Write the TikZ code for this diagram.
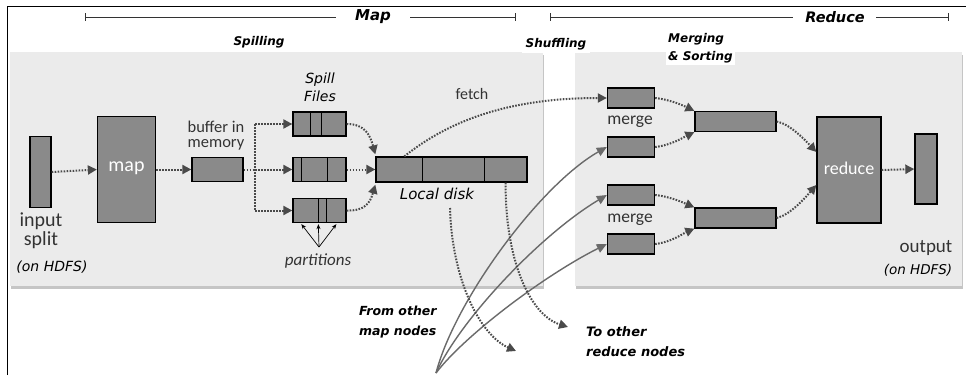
\documentclass[tikz,border=0pt]{standalone}
\usepackage{fontspec}
\setmainfont{Carlito}
\newfontfamily\comic{DejaVu Sans}
\usetikzlibrary{arrows.meta,shadows,calc}
\definecolor{boxgray}{HTML}{8A8A8A}
\definecolor{panelgray}{HTML}{EBEBEB}
\definecolor{arrgray}{HTML}{4A4A4A}
\definecolor{curvegray}{HTML}{6A6A6A}
\tikzset{
  blk/.style={draw=black, line width=1.3pt, fill=boxgray, inner sep=0pt},
  panel/.style={fill=panelgray, draw=none, drop shadow={opacity=0.45, shadow xshift=1pt, shadow yshift=-3pt}},
  dotarr/.style={draw=arrgray, line width=2pt, dash pattern=on 1.6pt off 1.4pt, -{Triangle[length=9pt,width=9pt,fill=arrgray]}},
  dotline/.style={draw=arrgray, line width=2pt, dash pattern=on 1.6pt off 1.4pt},
  grayarr/.style={draw=curvegray, line width=1.4pt, -{Triangle[length=10pt,width=9pt,fill=curvegray]}},
  lbl/.style={font=\fontsize{16}{15}\selectfont, text=black!80, inner sep=0pt},
  whitelbl/.style={font=\fontsize{20}{20}\selectfont, text=white, inner sep=0pt},
  cmc/.style={font=\comic\bfseries\itshape\fontsize{12}{20}\selectfont, inner sep=1pt, align=left},
  cmcn/.style={font=\comic\itshape\fontsize{14}{18}\selectfont, inner sep=0pt, align=center},
  bracket/.style={draw=black!80, line width=0.7pt},
}
\begin{document}
\begin{tikzpicture}[x=1pt,y=-1pt]
\useasboundingbox (0,0) rectangle (966,375);
\fill[white] (0,0) rectangle (966,375);
% frame
\draw[line width=1pt] (7,375) -- (7,6) -- (966,6);
% panels
\path[panel] (10,52) rectangle (543,286);
\path[panel] (575,52) rectangle (962,286);
% brackets
\node[cmc, font=\comic\bfseries\itshape\fontsize{15}{15}\selectfont] (maplbl) at (373,17) {Map};
\draw[bracket] (85,13) -- (85,21);
\draw[bracket] (85,17) -- (336,17);
\draw[bracket] (410,17) -- (515,17);
\draw[bracket] (515,13) -- (515,21);
\node[cmc, font=\comic\bfseries\itshape\fontsize{14.5}{15}\selectfont] (redlbl) at (835,17) {Reduce};
\draw[bracket] (550,13) -- (550,21);
\draw[bracket] (550,17) -- (793,17);
\draw[bracket] (876,17) -- (948,17);
\draw[bracket] (948,13) -- (948,21);
% phase labels
\node[cmc] (spilling) at (259,42) {Spilling};
\node[cmc, fill=white, inner xsep=4pt, inner ysep=3pt] (shuffling) at (556,44) {Shuffling};
\node[cmc, fill=white, inner sep=2pt, anchor=north west, font=\comic\bfseries\itshape\fontsize{12}{18}\selectfont] (merging) at (666,31) {Merging\\\& Sorting};
% input split and map
\node[blk, minimum width=21pt, minimum height=71pt] (split) at (40.5,172) {};
\node[lbl, font=\fontsize{20}{19}\selectfont, align=center] (splitlbl) at (41,231) {input\\split};
\node[cmcn] (hdfs1) at (52,267) {(on HDFS)};
\node[blk, minimum width=58pt, minimum height=106pt] (map) at (126.5,169.5) {};
\node[whitelbl] (maptxt) at (126.5,168) {map};
\draw[dotarr] (split.east) -- (map.west);
% buffer
\node[blk, minimum width=51pt, minimum height=24pt] (buf) at (217.5,169.5) {};
\node[lbl, align=center, font=\fontsize{16.5}{15}\selectfont] (buflbl) at (216,136) {buffer in\\memory};
\draw[dotarr] (map.east) -- (buf.west);
% spill files
\node[blk, minimum width=53pt, minimum height=24pt] (sp1) at (319.5,124) {};
\node[blk, minimum width=53pt, minimum height=24pt] (sp2) at (319.5,169.5) {};
\node[blk, minimum width=53pt, minimum height=24pt] (sp3) at (319.5,210.5) {};
\draw[line width=1.3pt] ($(sp1.north west)+(18,0)$) -- ($(sp1.south west)+(18,0)$);
\draw[line width=1.3pt] ($(sp1.north west)+(29,0)$) -- ($(sp1.south west)+(29,0)$);
\draw[line width=1.3pt] ($(sp2.north west)+(9,0)$) -- ($(sp2.south west)+(9,0)$);
\draw[line width=1.3pt] ($(sp2.north west)+(35,0)$) -- ($(sp2.south west)+(35,0)$);
\draw[line width=1.3pt] ($(sp3.north west)+(26,0)$) -- ($(sp3.south west)+(26,0)$);
\draw[line width=1.3pt] ($(sp3.north west)+(34,0)$) -- ($(sp3.south west)+(34,0)$);
\node[cmcn] (spilllbl) at (320,87) {Spill\\Files};
\coordinate (bj) at (255,169.5);
\draw[dotline] (buf.east) -- (bj);
\draw[dotline] (255,124) -- (255,210.5);
\draw[dotarr] (bj) -- (sp2.west);
\draw[dotarr] (255,124) -- (sp1.west);
\draw[dotarr] (255,210.5) -- (sp3.west);
% partitions
\coordinate (pj) at (319,247);
\node[lbl, font=\itshape\fontsize{17}{17}\selectfont] (partlbl) at (318,261) {partitions};
\draw[-{Stealth[length=5pt,width=4pt]}, line width=0.7pt] (pj) -- ($(sp3.south west)+(9,1)$);
\draw[-{Stealth[length=5pt,width=4pt]}, line width=0.7pt] (pj) -- ($(sp3.south west)+(26,1)$);
\draw[-{Stealth[length=5pt,width=4pt]}, line width=0.7pt] (pj) -- ($(sp3.south west)+(44,1)$);
% local disk
\node[blk, minimum width=151pt, minimum height=25pt] (ld) at (451.5,169.5) {};
\draw[line width=1.3pt] ($(ld.north west)+(47,0)$) -- ($(ld.south west)+(47,0)$);
\draw[line width=1.3pt] ($(ld.north west)+(109,0)$) -- ($(ld.south west)+(109,0)$);
\node[cmcn, font=\comic\itshape\fontsize{15}{15}\selectfont] (ldlbl) at (437,194) {Local disk};
\draw[dotarr] (sp1.east) .. controls (365,124) and (370,135) .. ($(ld.north west)+(0,-2)$);
\draw[dotarr] (sp2.east) -- (ld.west);
\draw[dotarr] (sp3.east) .. controls (365,211) and (370,203) .. ($(ld.south west)+(0,2)$);
% merges
\node[blk, minimum width=47pt, minimum height=20pt] (m1) at (631,98) {};
\node[blk, minimum width=47pt, minimum height=20pt] (m2) at (631,147) {};
\node[blk, minimum width=47pt, minimum height=20pt] (m3) at (631,195) {};
\node[blk, minimum width=47pt, minimum height=20pt] (m4) at (631,244) {};
\node[lbl, font=\fontsize{17.5}{17}\selectfont] (mg1) at (630,122) {merge};
\node[lbl, font=\fontsize{17.5}{17}\selectfont] (mg2) at (630,220) {merge};
\node[blk, minimum width=81pt, minimum height=20pt] (mt) at (735.5,121.5) {};
\node[blk, minimum width=81pt, minimum height=20pt] (mb) at (735.5,218) {};
\node[blk, minimum width=64pt, minimum height=106pt] (red) at (849,170) {};
\node[whitelbl, font=\fontsize{18}{18}\selectfont] (redtxt) at (849,168) {reduce};
\node[blk, minimum width=22pt, minimum height=70pt] (out) at (926,169) {};
\node[lbl, font=\fontsize{19}{19}\selectfont] (outlbl) at (926,248) {output};
\node[cmcn, font=\comic\itshape\fontsize{13.5}{15}\selectfont] (hdfs2) at (918,270) {(on HDFS)};
\draw[dotarr] (m1.east) .. controls (672,100) and (684,106) .. (mt.north west);
\draw[dotarr] (m2.east) .. controls (672,145) and (684,137) .. (mt.south west);
\draw[dotarr] (m3.east) .. controls (672,197) and (684,203) .. (mb.north west);
\draw[dotarr] (m4.east) .. controls (672,242) and (684,233) .. (mb.south west);
\draw[dotarr] (mt.east) .. controls (790,124) and (805,140) .. ($(red.west)+(0,-18)$);
\draw[dotarr] (mb.east) .. controls (790,215) and (805,198) .. ($(red.west)+(0,15)$);
\draw[dotarr] (red.east) -- (out.west);
% fetch
\node[lbl, font=\fontsize{16}{16}\selectfont] (fetchlbl) at (472,94) {fetch};
\draw[dotarr] ($(ld.north west)+(29,0)$) .. controls (450,120) and (510,98) .. (m1.west);
% other nodes
\coordinate (orig) at (436,373);
\draw[grayarr] (orig) .. controls (455,300) and (540,185) .. (m2.west);
\draw[grayarr] (orig) .. controls (460,320) and (540,235) .. (m3.west);
\draw[grayarr] (orig) .. controls (465,335) and (545,275) .. (m4.west);
\coordinate (to1) at (516,351);
\coordinate (to2) at (568,327);
\draw[dotarr] (450,208) .. controls (452,280) and (480,335) .. (to1);
\draw[dotarr] ($(ld.south east)+(-22,0)$) .. controls (505,260) and (530,315) .. (to2);
\node[cmc, anchor=west, font=\comic\bfseries\itshape\fontsize{12.5}{20}\selectfont] (frommap) at (358,322) {From other\\map nodes};
\node[cmc, anchor=west, font=\comic\bfseries\itshape\fontsize{13}{20}\selectfont] (toreduce) at (585,342) {To other\\reduce nodes};
\end{tikzpicture}
\end{document}
